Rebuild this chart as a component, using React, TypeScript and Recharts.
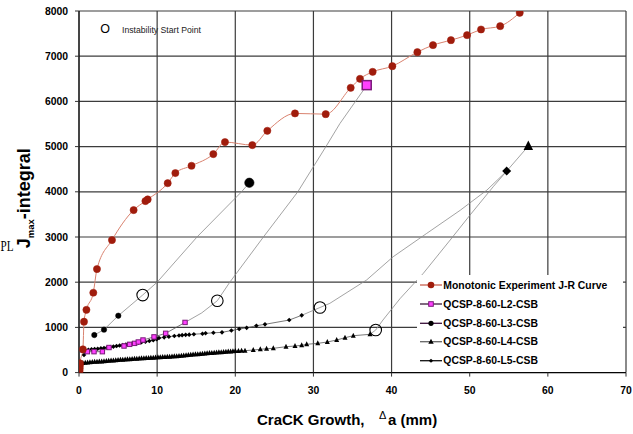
import React from 'react';
import { ComposedChart, Line, XAxis, YAxis, CartesianGrid, Legend } from 'recharts';

type Pt = [number, number];

const xTicks = [0, 10, 20, 30, 40, 50, 60, 70];
const yTicks = [0, 1000, 2000, 3000, 4000, 5000, 6000, 7000, 8000];

const seriesNames = [
  'Monotonic Experiment J-R Curve',
  'QCSP-8-60-L2-CSB',
  'QCSP-8-60-L3-CSB',
  'QCSP-8-60-L4-CSB',
  'QCSP-8-60-L5-CSB',
];

const monotonic: Pt[] = [
  [0.05, 0], [0.07, 40], [0.09, 90], [0.11, 150], [0.13, 205], [0.5, 515], [0.64, 1126],
  [0.95, 1388], [1.83, 1767], [2.3, 2291], [4.22, 2932], [6.99, 3596], [8.5, 3795],
  [8.79, 3832], [11.35, 4190], [12.33, 4414], [14.4, 4576], [17.19, 4834], [18.68, 5100],
  [22.18, 5033], [24.1, 5350], [27.64, 5734], [31.57, 5718], [34.77, 6301], [35.96, 6500],
  [37.58, 6654], [40.1, 6780], [43.3, 7090], [45.3, 7245], [47.6, 7355], [49.66, 7466],
  [51.45, 7591], [53.9, 7665], [56.4, 7960],
];

const l2Data: Pt[] = [
  [0.51, 500], [1.07, 463], [1.92, 463], [2.99, 463], [3.84, 555], [5.76, 588], [6.48, 625],
  [7.12, 647], [7.59, 677], [8.19, 721], [9.6, 790], [11.09, 869], [13.57, 1110],
];
const l2Path: Pt[] = [
  [13.57, 1110], [15.7, 1320], [17.7, 1590], [19.3, 2000], [23.6, 3000], [28, 4000],
  [31.6, 5000], [33.4, 5513], [36.4, 6250], [36.82, 6360],
];
const l2Start: Pt = [17.7, 1590];
const l2End: Pt = [36.82, 6360];

const l3Data: Pt[] = [[1.96, 831], [3.2, 950], [5.03, 1259]];
const l3Path: Pt[] = [[5.03, 1259], [8.15, 1716], [10, 2000], [15.1, 3000], [20.8, 4000], [21.8, 4200]];
const l3Start: Pt = [8.15, 1716];
const l3End: Pt = [21.8, 4200];

const l4Data: Pt[] = [
  [0.2, 205], [0.5, 215], [0.8, 220], [1.1, 225], [1.4, 228], [1.7, 232], [2.0, 238], [2.3, 240],
  [2.6, 244], [2.9, 248], [3.2, 252], [3.5, 256], [3.8, 262], [4.1, 265], [4.4, 270], [4.7, 273],
  [5.0, 278], [5.3, 282], [5.6, 285], [5.9, 290], [6.2, 293], [6.5, 297], [6.8, 300], [7.1, 304],
  [7.4, 307], [7.7, 311], [8.0, 315], [8.3, 318], [8.6, 322], [8.9, 325], [9.2, 328], [9.5, 331],
  [9.8, 335], [10.1, 338], [10.4, 341], [10.7, 344], [11.0, 347], [11.3, 350], [11.6, 353],
  [11.9, 357], [12.2, 360], [12.5, 364], [12.8, 368], [13.1, 372], [13.4, 377], [13.7, 382],
  [14.0, 388], [14.3, 393], [14.6, 398], [14.9, 404], [15.2, 408], [15.5, 413], [15.8, 418],
  [16.1, 422], [16.4, 426], [16.7, 431], [17.0, 435], [17.3, 440], [17.6, 444], [17.9, 448],
  [18.2, 452], [18.5, 457], [18.8, 461], [19.1, 465], [19.4, 468], [19.7, 472], [20.0, 476],
  [20.4, 480], [20.8, 483], [21.24, 485], [22.3, 500], [23.2, 515], [24.0, 528], [24.87, 537],
  [26.49, 573], [27.64, 588], [28.5, 604], [29.14, 626], [30.55, 647], [31.78, 677],
  [32.98, 721], [34.04, 772], [35.1, 816], [37.24, 847],
];
const l4Path: Pt[] = [
  [37.24, 847], [37.97, 942], [38.9, 1164], [41.1, 1640], [44.06, 2196], [47.5, 2933],
  [50.04, 3485], [53.0, 4111], [54.73, 4458], [57.5, 5011],
];
const l4Start: Pt = [37.97, 942];
const l4End: Pt = [57.5, 5011];

const l5Data: Pt[] = [
  [0.64, 390], [0.85, 485], [1.2, 505], [1.6, 515], [2.0, 522], [2.4, 528], [2.8, 535],
  [3.2, 543], [3.6, 553], [4.0, 565], [4.4, 575], [4.8, 588], [5.2, 600], [5.6, 610],
  [6.0, 620], [6.4, 630], [6.8, 640], [7.2, 652], [7.6, 662], [8.0, 672], [8.5, 684],
  [9.0, 700], [9.5, 718], [9.94, 740], [10.24, 765], [10.9, 780], [11.5, 795], [12.2, 810],
  [12.8, 820], [13.2, 828], [13.65, 835], [14.1, 840], [14.7, 850], [15.8, 860], [16.2, 869],
  [17.2, 880], [18.3, 891], [19.5, 930], [20.5, 964], [21.46, 990], [22.7, 1037],
  [23.8, 1068], [26.9, 1163], [28.5, 1267],
];
const l5Path: Pt[] = [
  [28.5, 1267], [30.84, 1440], [32.1, 1532], [36.8, 2048], [40.2, 2563], [44.5, 3080],
  [48.8, 3593], [52.2, 4038], [54.73, 4458],
];
const l5Start: Pt = [30.84, 1440];
const l5End: Pt = [54.73, 4458];

const toRows = (pts: Pt[]) => pts.map(([x, y]) => ({ x, y }));

const FONT = '"Liberation Sans", Arial, Helvetica, sans-serif';
const RED = '#a01c0c';
const RED_LINE = '#d9826f';
const MAGENTA = '#ff40ff';
const PURPLE = '#7a1a7a';
const PATH_GRAY = '#8c8c8c';
const DATA_LINE = '#555555';

const circleDot = (r: number, fill: string, stroke: string, sw = 0.5) => (p: any) => (
  <circle key={`c${r}-${p.index}-${p.cx}`} cx={p.cx} cy={p.cy} r={r} fill={fill} stroke={stroke} strokeWidth={sw} />
);
const squareDot = (s: number, sw: number) => (p: any) => (
  <rect key={`s${s}-${p.index}-${p.cx}`} x={p.cx - s / 2} y={p.cy - s / 2} width={s} height={s} fill={MAGENTA} stroke={PURPLE} strokeWidth={sw} />
);
const triDot = (s: number) => (p: any) => (
  <path key={`t${s}-${p.index}-${p.cx}`} d={`M${p.cx},${p.cy - s * 0.6} L${p.cx + s / 2},${p.cy + s * 0.4} L${p.cx - s / 2},${p.cy + s * 0.4} Z`} fill="#000" />
);
const diaDot = (s: number) => (p: any) => (
  <path key={`d${s}-${p.index}-${p.cx}`} d={`M${p.cx},${p.cy - s / 2} L${p.cx + s / 2},${p.cy} L${p.cx},${p.cy + s / 2} L${p.cx - s / 2},${p.cy} Z`} fill="#000" />
);

const LegendBox = () => {
  const rows = [10, 29, 48.3, 66.7, 85.7];
  const lineColors = ['#c8614f', '#3a1a3a', '#3a103a', '#666666', '#111111'];
  const mx = 14;
  return (
    <svg width={206} height={97} style={{ display: 'block', background: '#fff' }}>
      <rect x={0} y={0} width={206} height={97} fill="#fff" />
      {seriesNames.map((name, i) => {
        const cy = rows[i];
        let marker: React.ReactNode = null;
        if (i === 0) marker = <circle cx={mx} cy={cy} r={3.3} fill={RED} />;
        if (i === 1) marker = <rect x={mx - 2.3} y={cy - 2.3} width={4.6} height={4.6} fill={MAGENTA} stroke={PURPLE} strokeWidth={1} />;
        if (i === 2) marker = <circle cx={mx} cy={cy} r={2.6} fill="#000" />;
        if (i === 3) marker = <path d={`M${mx},${cy - 3} L${mx + 2.7},${cy + 2} L${mx - 2.7},${cy + 2} Z`} fill="#000" />;
        if (i === 4) marker = <path d={`M${mx},${cy - 2} L${mx + 2.2},${cy} L${mx},${cy + 2} L${mx - 2.2},${cy} Z`} fill="#000" />;
        return (
          <g key={name}>
            <line x1={3} x2={25} y1={cy} y2={cy} stroke={lineColors[i]} strokeWidth={1.3} />
            {marker}
            <text x={26.3} y={cy + 3.7} fontFamily={FONT} fontWeight="bold" fontSize={10.4} fill="#000">{name}</text>
          </g>
        );
      })}
    </svg>
  );
};

export default function App() {
  const axisTick = { fontFamily: FONT, fontWeight: 'bold', fontSize: 10.4, fill: '#000' } as any;
  return (
    <div style={{ position: 'absolute', left: 0, top: 0, width: 633, height: 434, background: '#fff' }}>
      <ComposedChart
        width={633}
        height={434}
        margin={{ top: 11, right: 7, left: 19, bottom: 31.4 }}
      >
        <CartesianGrid stroke="#3c3c3c" strokeWidth={1.2} />
        <XAxis
          type="number"
          dataKey="x"
          domain={[0, 70]}
          ticks={xTicks}
          allowDataOverflow
          height={30}
          tick={axisTick}
          tickSize={4}
          tickMargin={10}
          axisLine={{ stroke: '#000' }}
          tickLine={{ stroke: '#333' }}
        />
        <YAxis
          type="number"
          domain={[0, 8000]}
          ticks={yTicks}
          allowDataOverflow
          width={60}
          tick={axisTick}
          tickSize={4}
          tickMargin={7}
          axisLine={{ stroke: '#000' }}
          tickLine={{ stroke: '#333' }}
        />
        <Legend
          layout="vertical"
          align="center"
          verticalAlign="middle"
          width={206}
          height={97}
          wrapperStyle={{ left: 417, top: 275, width: 206, height: 97 }}
          content={() => <LegendBox />}
        />

        {/* connecting paths to failure */}
        <Line data={toRows(l2Path)} dataKey="y" type="linear" stroke={PATH_GRAY} strokeWidth={0.8} dot={false} activeDot={false} isAnimationActive={false} legendType="none" />
        <Line data={toRows(l3Path)} dataKey="y" type="linear" stroke={PATH_GRAY} strokeWidth={0.8} dot={false} activeDot={false} isAnimationActive={false} legendType="none" />
        <Line data={toRows(l4Path)} dataKey="y" type="linear" stroke={PATH_GRAY} strokeWidth={0.8} dot={false} activeDot={false} isAnimationActive={false} legendType="none" />
        <Line data={toRows(l5Path)} dataKey="y" type="linear" stroke={PATH_GRAY} strokeWidth={0.8} dot={false} activeDot={false} isAnimationActive={false} legendType="none" />

        {/* measured series */}
        <Line data={toRows(l4Data)} dataKey="y" name={seriesNames[3]} type="linear" stroke={DATA_LINE} strokeWidth={0.8} dot={triDot(5)} activeDot={false} isAnimationActive={false} />
        <Line data={toRows(l5Data)} dataKey="y" name={seriesNames[4]} type="linear" stroke={DATA_LINE} strokeWidth={0.8} dot={diaDot(4.6)} activeDot={false} isAnimationActive={false} />
        <Line data={toRows(l3Data)} dataKey="y" name={seriesNames[2]} type="linear" stroke={PATH_GRAY} strokeWidth={0.8} dot={circleDot(2.7, '#000', '#000')} activeDot={false} isAnimationActive={false} />
        <Line data={toRows(l2Data)} dataKey="y" name={seriesNames[1]} type="linear" stroke={DATA_LINE} strokeWidth={0.8} dot={squareDot(4.4, 1)} activeDot={false} isAnimationActive={false} />
        <Line data={toRows(monotonic)} dataKey="y" name={seriesNames[0]} type="monotone" stroke={RED_LINE} strokeWidth={1} dot={circleDot(3.6, RED, RED)} activeDot={false} isAnimationActive={false} />

        {/* instability start points */}
        <Line data={toRows([l2Start, l3Start, l4Start, l5Start].sort((a, b) => a[0] - b[0]))} dataKey="y" stroke="none" dot={circleDot(5.8, 'none', '#000', 1.1)} activeDot={false} isAnimationActive={false} legendType="none" />

        {/* final points */}
        <Line data={toRows([l2End])} dataKey="y" stroke="none" dot={squareDot(9, 1.5)} activeDot={false} isAnimationActive={false} legendType="none" />
        <Line data={toRows([l3End])} dataKey="y" stroke="none" dot={circleDot(4.7, '#000', '#000')} activeDot={false} isAnimationActive={false} legendType="none" />
        <Line data={toRows([l4End])} dataKey="y" stroke="none" dot={triDot(9.5)} activeDot={false} isAnimationActive={false} legendType="none" />
        <Line data={toRows([l5End])} dataKey="y" stroke="none" dot={diaDot(9)} activeDot={false} isAnimationActive={false} legendType="none" />
      </ComposedChart>

      <svg width={633} height={434} style={{ position: 'absolute', left: 0, top: 0, pointerEvents: 'none' }}>
        <text x={105} y={32.5} textAnchor="middle" fontFamily={FONT} fontSize={12.5} fill="#000">O</text>
        <text x={122} y={32.7} fontFamily={FONT} fontSize={9.3} textLength={79} lengthAdjust="spacingAndGlyphs" fill="#222">Instability Start Point</text>

        <text x={0.5} y={251} textLength={13} lengthAdjust="spacingAndGlyphs" fontFamily='"Liberation Serif", "Times New Roman", serif' fontSize={15} fill="#000">PL</text>
        <text transform="translate(30.2,248.3) rotate(-90)" fontFamily={FONT} fontWeight="bold" fontSize={18} fill="#000">
          J<tspan fontSize={9.5} dy={4}>max</tspan><tspan fontSize={18} dy={-4}>-integral</tspan>
        </text>

        <text x={257} y={425} fontFamily={FONT} fontWeight="bold" fontSize={15} fill="#000">CraCK Growth,</text>
        <text x={379} y={419.3} fontFamily={FONT} fontSize={11} fill="#000">Δ</text>
        <text x={388} y={425} fontFamily={FONT} fontWeight="bold" fontSize={15} fill="#000">a (mm)</text>
      </svg>
    </div>
  );
}
